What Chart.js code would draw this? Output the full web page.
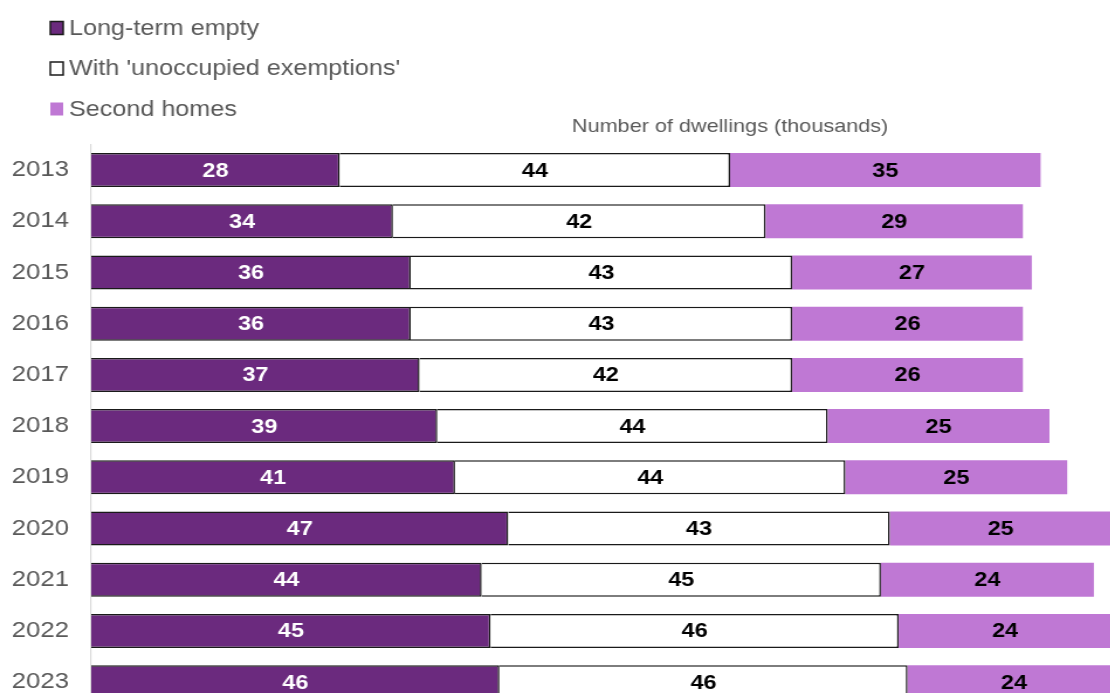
<!DOCTYPE html>
<html>
<head>
<meta charset="utf-8">
<script src="https://cdn.jsdelivr.net/npm/chart.js@4/dist/chart.umd.min.js"></script>
<style>
  html, body { margin: 0; padding: 0; background: #fff; overflow: hidden; }
  #marco { width: 1110px; height: 693px; overflow: hidden; }
  /* the chart is drawn a little wide, as in the published graphic */
  #lienzo { transform: scaleX(1.17); transform-origin: 0 0; width: 1180px; height: 740px; }
</style>
</head>
<body>
<div id="marco">
  <div id="lienzo"><canvas id="grafico" width="1180" height="740"></canvas></div>
</div>
<script>
// data
const years = ["2013", "2014", "2015", "2016", "2017", "2018", "2019", "2020", "2021", "2022", "2023"];
const longTermEmpty = [28, 34, 36, 36, 37, 39, 41, 47, 44, 45, 46];
const unoccupiedExemptions = [44, 42, 43, 43, 42, 44, 44, 43, 45, 46, 46];
const secondHomes = [35, 29, 27, 26, 26, 25, 25, 25, 24, 24, 24];

const FUENTE = '"Liberation Sans", Arial, sans-serif';
const GRIS = "#595959";

// legend stacked in the top-left corner
const leyenda = {
  id: "leyenda",
  afterDraw(chart) {
    const ctx = chart.ctx;
    ctx.save();
    ctx.font = "21.5px " + FUENTE;
    ctx.textBaseline = "middle";
    chart.data.datasets.forEach((ds, i) => {
      const y = 28 + i * 40.5;
      ctx.fillStyle = ds.backgroundColor;
      ctx.fillRect(43, y - 6.5, 11, 13);
      if (ds.borderWidth) {
        ctx.strokeStyle = "#1a1a1a";
        ctx.lineWidth = 1.5;
        ctx.strokeRect(43, y - 6.5, 11, 13);
      }
      ctx.fillStyle = GRIS;
      ctx.fillText(ds.label, 59, y + 1);
    });
    ctx.restore();
  }
};

// value written in the middle of each segment
const etiquetas = {
  id: "etiquetas",
  afterDatasetsDraw(chart) {
    const ctx = chart.ctx;
    ctx.save();
    ctx.font = "bold 20px " + FUENTE;
    ctx.textAlign = "center";
    ctx.textBaseline = "middle";
    chart.data.datasets.forEach((ds, i) => {
      const meta = chart.getDatasetMeta(i);
      ctx.fillStyle = i === 0 ? "#ffffff" : "#000000";
      meta.data.forEach((bar, j) => {
        const x = (bar.x + bar.base) / 2;
        ctx.fillText(String(ds.data[j]), x, bar.y + 1);
      });
    });
    ctx.restore();
  }
};

const config = {
  type: "bar",
  data: {
    labels: years,
    datasets: [
      {
        label: "Long-term empty",
        data: longTermEmpty,
        backgroundColor: "#6b2a7e",
        borderColor: "#1a1a1a",
        borderWidth: 1.5
      },
      {
        label: "With 'unoccupied exemptions'",
        data: unoccupiedExemptions,
        backgroundColor: "#ffffff",
        borderColor: "#1a1a1a",
        borderWidth: 1.5
      },
      {
        label: "Second homes",
        data: secondHomes,
        backgroundColor: "#bf78d4",
        borderWidth: 0
      }
    ]
  },
  options: {
    indexAxis: "y",
    responsive: false,
    animation: false,
    devicePixelRatio: 1,
    // bottom space comes from the y tick padding (half a label + 19)
    layout: { padding: { top: 104.4, right: 10, bottom: 0, left: 0 } },
    datasets: {
      bar: { categoryPercentage: 1, barPercentage: 0.664 }
    },
    plugins: {
      legend: { display: false },
      tooltip: { enabled: false }
    },
    scales: {
      x: {
        stacked: true,
        position: "top",
        min: 0,
        max: 144,
        ticks: { display: false },
        grid: { display: false },
        border: { display: false },
        title: {
          display: true,
          text: "Number of dwellings (thousands)",
          color: GRIS,
          font: { family: FUENTE, size: 18.5 },
          padding: { top: 11.5, bottom: 0 }
        },
        afterFit(scale) { scale.height = 40; }
      },
      y: {
        stacked: true,
        grid: { display: false, drawTicks: false },
        border: { display: true, color: "#d9d9d9", width: 1.2 },
        ticks: {
          color: GRIS,
          padding: 19,
          font: { family: FUENTE, size: 22 }
        },
        afterFit(scale) { scale.width = 78; }
      }
    }
  },
  plugins: [leyenda, etiquetas]
};

new Chart(document.getElementById("grafico"), config);
</script>
</body>
</html>
